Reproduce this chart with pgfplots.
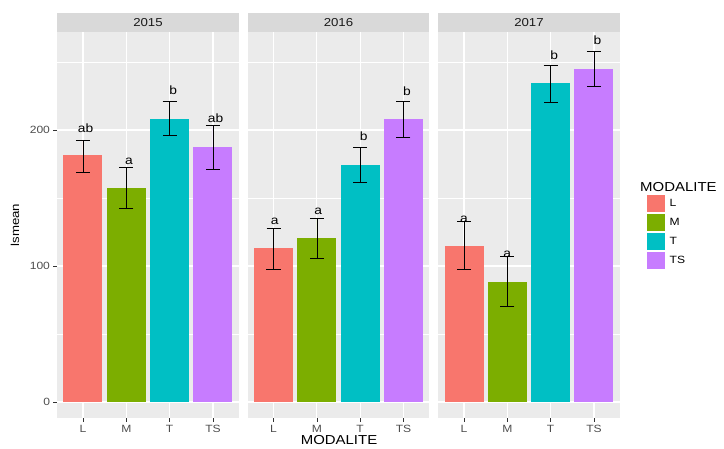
\documentclass[border=0pt]{standalone}
\usepackage{fontspec}
\setmainfont{Liberation Sans}[FakeStretch=1.15]
\usepackage{pgfplots}
\pgfplotsset{compat=1.18}
\definecolor{cL}{HTML}{F8766D}
\definecolor{cM}{HTML}{7CAE00}
\definecolor{cT}{HTML}{00BFC4}
\definecolor{cTS}{HTML}{C77CFF}
\definecolor{panelbg}{HTML}{EBEBEB}
\definecolor{stripbg}{HTML}{D9D9D9}
\definecolor{gtext}{HTML}{4D4D4D}
\definecolor{striptext}{HTML}{1A1A1A}
\definecolor{tickc}{HTML}{333333}
\pgfplotsset{
 facet/.style={
  scale only axis, width=182pt, height=386pt,
  xmin=0.4, xmax=4.6, ymin=-11.76, ymax=272.06,
  axis background/.style={fill=panelbg},
  axis line style={draw=none},
  xtick={1,2,3,4}, xticklabels={L,M,T,TS},
  ytick={0,100,200}, minor ytick={50,150,250},
  xtick pos=bottom, ytick pos=left,
  xmajorgrids, ymajorgrids, yminorgrids,
  major grid style={white, line width=1.1pt},
  minor grid style={white, line width=0.5pt},
  tick align=outside, major tick length=3.5pt, minor tick length=0pt,
  xtick style={tickc, line width=0.6pt},
  ticklabel style={font=\fontsize{10.5}{12}\selectfont, text=gtext},
  /pgf/number format/assume math mode=true,
  ybar, bar width=0.9, bar shift=0pt,
  clip=false,
 },
 bars/.style={fill=#1, draw=none,
  error bars/.cd, y dir=both, y explicit,
  error bar style={draw=black, line width=0.6pt},
  error mark options={rotate=90, draw=black, mark size=7pt, line width=0.6pt}},
}
\tikzset{letter/.style={anchor=base, font=\fontsize{12}{12}\selectfont, text=black}}
\newcommand{\strip}[1]{%
  \fill[stripbg] (rel axis cs:0,1) rectangle ([yshift=19pt]rel axis cs:1,1);
  \node[font=\fontsize{11.5}{11.5}\selectfont, text=striptext] at ([yshift=9.5pt]rel axis cs:0.5,1) {#1};}
\begin{document}
\begin{tikzpicture}
\useasboundingbox (0,0) rectangle (724pt,448pt);
% ---------- 2015 ----------
\begin{axis}[facet, at={(57pt,30pt)}, anchor=south west,
  ytick style={tickc, line width=0.6pt},
  ylabel={lsmean},
  ylabel style={at={(axis description cs:-0.231,0.5)}, anchor=center, font=\fontsize{11.5}{11.5}\selectfont, text=black}]
\addplot[bars=cL] table[x=x, y=y, y error plus=ep, y error minus=em, row sep=\\] {x y ep em\\ 1 181.6 10.5 12.7\\};
\addplot[bars=cM] table[x=x, y=y, y error plus=ep, y error minus=em, row sep=\\] {x y ep em\\ 2 157.4 14.9 15.2\\};
\addplot[bars=cT] table[x=x, y=y, y error plus=ep, y error minus=em, row sep=\\] {x y ep em\\ 3 208.3 12.8 12.2\\};
\addplot[bars=cTS] table[x=x, y=y, y error plus=ep, y error minus=em, row sep=\\] {x y ep em\\ 4 187.7 15.7 16.6\\};
\node[letter] at (axis cs:1.06,198.3) {ab};
\node[letter] at (axis cs:2.06,174.8) {a};
\node[letter] at (axis cs:3.08,226.2) {b};
\node[letter] at (axis cs:4.06,205.4) {ab};
\strip{2015}
\end{axis}
% ---------- 2016 ----------
\begin{axis}[facet, at={(247.5pt,30pt)}, anchor=south west,
  yticklabels={}, ytick style={draw=none},
  xlabel={MODALITE},
  xlabel style={at={(axis description cs:0.503,-0.056)}, anchor=center, font=\fontsize{13}{13}\selectfont, text=black}]
\addplot[bars=cL] table[x=x, y=y, y error plus=ep, y error minus=em, row sep=\\] {x y ep em\\ 1 113.0 14.7 15.5\\};
\addplot[bars=cM] table[x=x, y=y, y error plus=ep, y error minus=em, row sep=\\] {x y ep em\\ 2 120.3 14.7 14.7\\};
\addplot[bars=cT] table[x=x, y=y, y error plus=ep, y error minus=em, row sep=\\] {x y ep em\\ 3 174.3 13.2 13.0\\};
\addplot[bars=cTS] table[x=x, y=y, y error plus=ep, y error minus=em, row sep=\\] {x y ep em\\ 4 207.8 13.3 13.4\\};
\node[letter] at (axis cs:1.03,130.6) {a};
\node[letter] at (axis cs:2.03,138.0) {a};
\node[letter] at (axis cs:3.08,192.4) {b};
\node[letter] at (axis cs:4.08,225.7) {b};
\strip{2016}
\end{axis}
% ---------- 2017 ----------
\begin{axis}[facet, at={(438pt,30pt)}, anchor=south west,
  yticklabels={}, ytick style={draw=none},
  legend style={at={(axis description cs:1.148,0.578)}, anchor=north west, draw=none, fill=none,
    inner sep=0pt, row sep=2pt, font=\fontsize{10.5}{10.5}\selectfont,
    nodes={inner sep=1.5pt, text=black}},
  legend cell align=left,
  legend image code/.code={\draw[#1, draw=none] (0pt,-8.5pt) rectangle (18pt,8.5pt);}]
\addplot[bars=cL] table[x=x, y=y, y error plus=ep, y error minus=em, row sep=\\] {x y ep em\\ 1 114.7 17.9 17.2\\};
\addlegendentry{\hspace{3pt}L}
\addplot[bars=cM] table[x=x, y=y, y error plus=ep, y error minus=em, row sep=\\] {x y ep em\\ 2 88.5 18.4 17.9\\};
\addlegendentry{\hspace{3pt}M}
\addplot[bars=cT] table[x=x, y=y, y error plus=ep, y error minus=em, row sep=\\] {x y ep em\\ 3 234.3 13.0 14.0\\};
\addlegendentry{\hspace{3pt}T}
\addplot[bars=cTS] table[x=x, y=y, y error plus=ep, y error minus=em, row sep=\\] {x y ep em\\ 4 245.1 13.0 12.7\\};
\addlegendentry{\hspace{3pt}TS}
\node[letter] at (axis cs:1.0,132.1) {a};
\node[letter] at (axis cs:2.0,106.1) {a};
\node[letter] at (axis cs:3.08,252.0) {b};
\node[letter] at (axis cs:4.08,263.0) {b};
\node[anchor=west, font=\fontsize{13}{13}\selectfont, text=black, inner sep=0pt] at (axis description cs:1.110,0.598) {MODALITE};
\strip{2017}
\end{axis}
\end{tikzpicture}
\end{document}
